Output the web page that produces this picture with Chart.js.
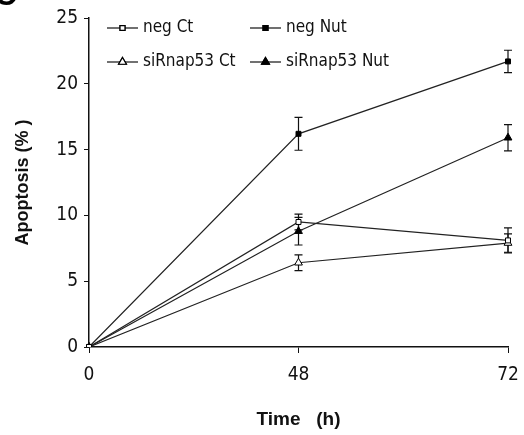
<!DOCTYPE html>
<html>
<head>
<meta charset="utf-8">
<script src="https://cdn.jsdelivr.net/npm/chart.js@4.4.0/dist/chart.umd.min.js"></script>
<style>
  html, body { margin: 0; padding: 0; background: #fff; overflow: hidden; }
  #wrap { position: relative; width: 524px; height: 435px; }
  #panel { position: absolute; left: -6px; top: -24px; font: bold 32px Arial, "Liberation Sans", sans-serif; color: #000; }
</style>
</head>
<body>
<div id="wrap">
  <canvas id="apoptosisChart" width="524" height="435"></canvas>
  <div id="panel">C</div>
</div>
<script>
const timeLabels = ['0', '48', '72'];
const seriesNames = ['neg Ct', 'neg Nut', 'siRnap53 Ct', 'siRnap53 Nut'];
const negCt = [0, 9.5, 8.1];
const negNut = [0, 16.2, 21.7];
const siCt = [0, 6.4, 7.9];
const siNut = [0, 8.8, 15.9];
const negCtErr = [0, 0.6, 0.95];
const negNutErr = [0, 1.25, 0.85];
const siCtErr = [0, 0.6, 0.7];
const siNutErr = [0, 1.05, 1.0];
const yTicks = [0, 5, 10, 15, 20, 25];

const narrow = '"DejaVu Sans Condensed", "Liberation Sans Narrow", "Arial Narrow", sans-serif';
const bold = 'Arial, "Liberation Sans", sans-serif';

function makeSet(label, data, err, style, filled) {
    return {
        label: label,
        data: data,
        err: err,
        borderColor: '#222',
        borderWidth: 1.2,
        pointStyle: style,
        pointRadius: style === 'triangle' ? 4.5 : 3.5,
        pointBackgroundColor: filled ? '#000' : '#fff',
        pointBorderColor: '#000',
        pointBorderWidth: 1,
        tension: 0
    };
}

// error bars drawn with the chart's own scales
const errorBars = {
    id: 'errorBars',
    beforeDatasetsDraw(chart) {
        const c = chart.ctx;
        const y = chart.scales.y;
        c.save();
        c.strokeStyle = '#111';
        c.lineWidth = 1.2;
        chart.data.datasets.forEach((ds, i) => {
            const meta = chart.getDatasetMeta(i);
            meta.data.forEach((pt, j) => {
                const e = ds.err[j];
                if (!e) return;
                const top = y.getPixelForValue(ds.data[j] + e);
                const bot = y.getPixelForValue(ds.data[j] - e);
                c.beginPath();
                c.moveTo(pt.x, top); c.lineTo(pt.x, bot);
                c.moveTo(pt.x - 4, top); c.lineTo(pt.x + 4, top);
                c.moveTo(pt.x - 4, bot); c.lineTo(pt.x + 4, bot);
                c.stroke();
            });
        });
        c.restore();
    }
};

// two-column legend in the upper left of the plot, line + marker samples
const lineLegend = {
    id: 'lineLegend',
    afterDraw(chart) {
        const c = chart.ctx;
        const spots = [[107, 28], [250, 28], [107, 62], [250, 62]];
        c.save();
        c.font = '17px ' + narrow;
        c.textBaseline = 'middle';
        chart.data.datasets.forEach((ds, i) => {
            const [x, yy] = spots[i];
            c.strokeStyle = '#111';
            c.lineWidth = 1.2;
            c.beginPath();
            c.moveTo(x, yy); c.lineTo(x + 31, yy);
            c.stroke();
            Chart.helpers.drawPoint(c, {
                pointStyle: ds.pointStyle,
                radius: ds.pointRadius,
                borderWidth: 1,
                rotation: 0
            }, x + 15.5, yy);
            c.fillStyle = ds.pointBackgroundColor;
            c.strokeStyle = '#000';
            c.fill();
            c.stroke();
            c.fillStyle = '#111';
            c.fillText(ds.label, x + 36, yy);
        });
        c.restore();
    }
};

new Chart(document.getElementById('apoptosisChart').getContext('2d'), {
    type: 'line',
    data: {
        labels: timeLabels,
        datasets: [
            makeSet(seriesNames[0], negCt, negCtErr, 'rect', false),
            makeSet(seriesNames[1], negNut, negNutErr, 'rect', true),
            makeSet(seriesNames[2], siCt, siCtErr, 'triangle', false),
            makeSet(seriesNames[3], siNut, siNutErr, 'triangle', true)
        ]
    },
    options: {
        responsive: false,
        animation: false,
        layout: { padding: { top: 18, right: 16, left: 0, bottom: 0 } },
        plugins: { legend: { display: false }, tooltip: { enabled: false } },
        scales: {
            x: {
                type: 'category',
                offset: false,
                grid: { display: true, drawOnChartArea: false, color: '#111', tickLength: 6 },
                border: { color: '#111', width: 1.5 },
                ticks: { color: '#111', font: { size: 19, family: narrow }, padding: 11, maxRotation: 0 },
                title: { display: true, text: 'Time   (h)', color: '#111', font: { size: 19, weight: 'bold', family: bold }, padding: { top: 0, bottom: 4 } },
                afterFit: s => { s.height = 88; s.paddingLeft = 0; s.paddingRight = 0; }
            },
            y: {
                min: 0,
                max: 25,
                afterBuildTicks: s => { s.ticks = yTicks.map(v => ({ value: v })); },
                grid: { display: true, drawOnChartArea: false, color: '#111', tickLength: 5 },
                border: { color: '#111', width: 1.5 },
                ticks: { color: '#111', font: { size: 19, family: narrow }, padding: 6 },
                title: { display: true, text: 'Apoptosis (% )', color: '#111', font: { size: 18, weight: 'bold', family: bold }, padding: { top: 12, bottom: 0 } },
                afterFit: s => { s.width = 89; s.paddingTop = 0; s.paddingBottom = 0; }
            }
        }
    },
    plugins: [errorBars, lineLegend]
});
</script>
</body>
</html>
